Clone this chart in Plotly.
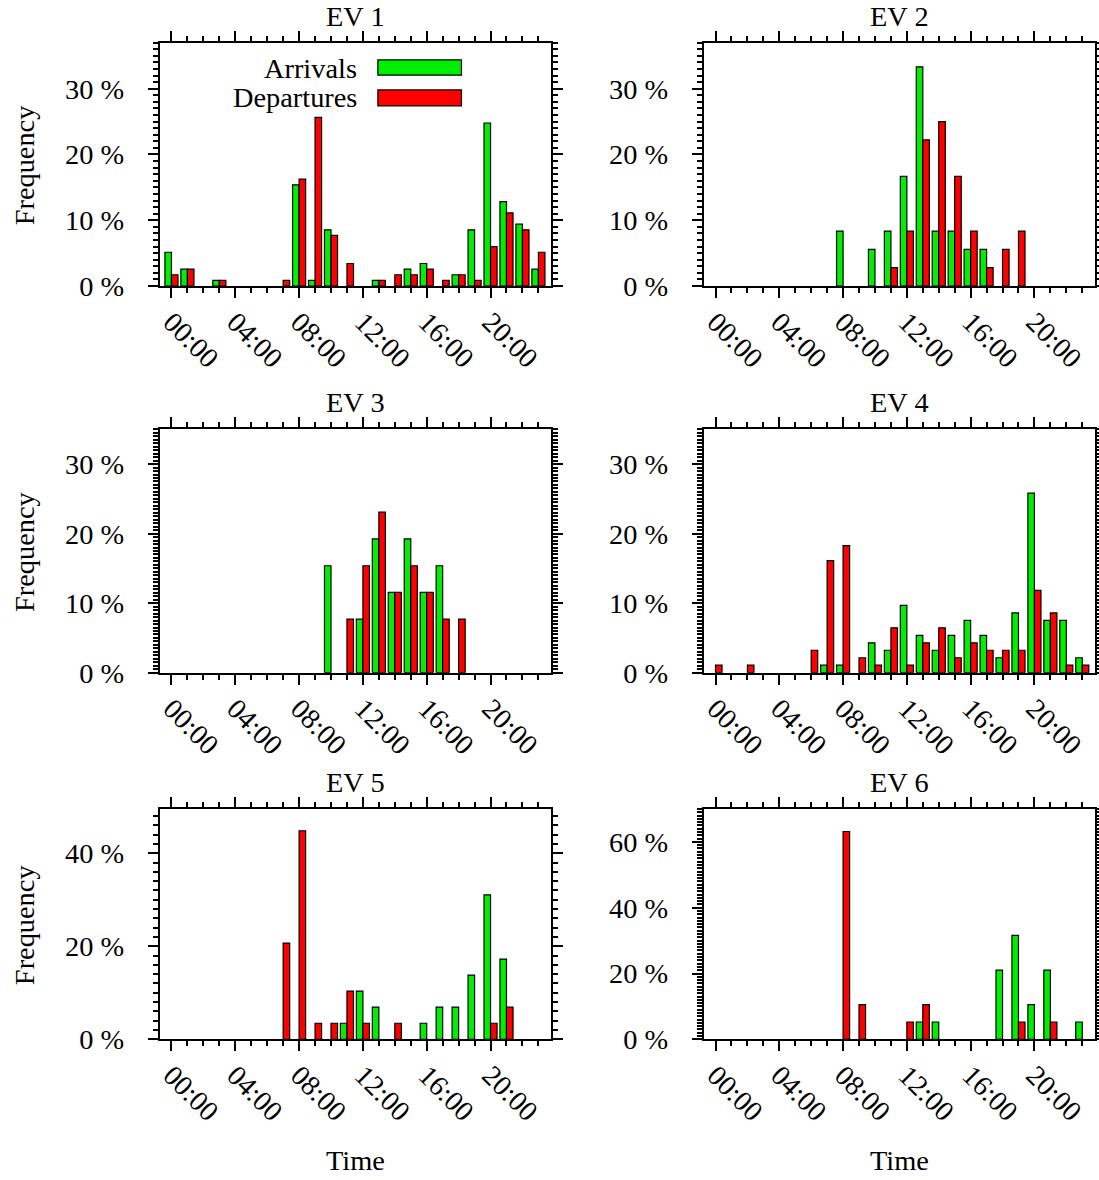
import plotly.graph_objects as go
from plotly.subplots import make_subplots

hours = list(range(24))
tick_hours = [0, 4, 8, 12, 16, 20]
tick_labels = ["00:00", "04:00", "08:00", "12:00", "16:00", "20:00"]
titles = ["EV 1", "EV 2", "EV 3", "EV 4", "EV 5", "EV 6"]

#            0     1     2     3     4  5  6  7     8      9      10    11    12 13    14    15    16    17    18    19    20     21     22    23
ev1_arr = [5.13, 2.56, 0, 0.85, 0, 0, 0, 0, 15.38, 0.85, 8.55, 0, 0, 0.85, 0, 2.56, 3.42, 0, 1.71, 8.55, 24.79, 12.82, 9.40, 2.56]
ev1_dep = [1.71, 2.56, 0, 0.85, 0, 0, 0, 0.85, 16.24, 25.64, 7.69, 3.42, 0, 0.85, 1.71, 1.71, 2.56, 0.85, 1.71, 0.85, 5.98, 11.11, 8.55, 5.13]

ev2_arr = [0, 0, 0, 0, 0, 0, 0, 0, 8.33, 0, 5.56, 8.33, 16.67, 33.33, 8.33, 8.33, 5.56, 5.56, 0, 0, 0, 0, 0, 0]
ev2_dep = [0, 0, 0, 0, 0, 0, 0, 0, 0, 0, 0, 2.78, 8.33, 22.22, 25.00, 16.67, 8.33, 2.78, 5.56, 8.33, 0, 0, 0, 0]

ev3_arr = [0, 0, 0, 0, 0, 0, 0, 0, 0, 0, 15.38, 0, 7.69, 19.23, 11.54, 19.23, 11.54, 15.38, 0, 0, 0, 0, 0, 0]
ev3_dep = [0, 0, 0, 0, 0, 0, 0, 0, 0, 0, 0, 7.69, 15.38, 23.08, 11.54, 15.38, 11.54, 7.69, 7.69, 0, 0, 0, 0, 0]

ev4_arr = [0, 0, 0, 0, 0, 0, 0, 1.08, 1.08, 0, 4.30, 3.23, 9.68, 5.38, 3.23, 5.38, 7.53, 5.38, 2.15, 8.60, 25.81, 7.53, 7.53, 2.15]
ev4_dep = [1.08, 0, 1.08, 0, 0, 0, 3.23, 16.13, 18.28, 2.15, 1.08, 6.45, 1.08, 4.30, 6.45, 2.15, 4.30, 3.23, 3.23, 3.23, 11.83, 8.60, 1.08, 1.08]

ev5_arr = [0, 0, 0, 0, 0, 0, 0, 0, 0, 0, 0, 3.45, 10.34, 6.90, 0, 0, 3.45, 6.90, 6.90, 13.79, 31.03, 17.24, 0, 0]
ev5_dep = [0, 0, 0, 0, 0, 0, 0, 20.69, 44.83, 3.45, 3.45, 10.34, 3.45, 0, 3.45, 0, 0, 0, 0, 0, 3.45, 6.90, 0, 0]

ev6_arr = [0, 0, 0, 0, 0, 0, 0, 0, 0, 0, 0, 0, 0, 5.26, 5.26, 0, 0, 0, 21.05, 31.58, 10.53, 21.05, 0, 5.26]
ev6_dep = [0, 0, 0, 0, 0, 0, 0, 0, 63.16, 10.53, 0, 0, 5.26, 10.53, 0, 0, 0, 0, 0, 5.26, 0, 5.26, 0, 0]

y_max = [37, 37, 35, 35, 49.5, 70]
y_major = [10, 10, 10, 10, 20, 20]
y_minor = [1, 1, 0.5, 0.5, 2, 1]

panels = [(ev1_arr, ev1_dep), (ev2_arr, ev2_dep), (ev3_arr, ev3_dep),
          (ev4_arr, ev4_dep), (ev5_arr, ev5_dep), (ev6_arr, ev6_dep)]

GREEN = "#00ee00"
RED = "#ff0000"
FONT = "Liberation Serif"

# layout grid measured on the 1099x1180 reference, laid out on a slightly larger page
REF_W, REF_H = 1099, 1180
H = 1196
SY = H / REF_H
SX = 1.007
W = round(REF_W * SX)
FS = 28 * SY

def px_x(x):
    return x * SX / W

def px_y(y):
    return 1 - y * SY / H

x_dom = [[px_x(157), px_x(548.5)], [px_x(701.7), px_x(1093)]]
y_dom = [[px_y(286), px_y(42.7)], [px_y(672.7), px_y(429.3)], [px_y(1039.3), px_y(809)]]

fig = make_subplots(rows=3, cols=2)

def nz(vals):
    return [v if v > 0 else None for v in vals]

for i, (arr, dep) in enumerate(panels):
    r, c = i // 2 + 1, i % 2 + 1
    fig.add_trace(go.Bar(x=hours, y=nz(arr), offset=-0.41, width=0.41, name="Arrivals",
                         marker=dict(color=GREEN, line=dict(color="black", width=1.2)),
                         showlegend=False), row=r, col=c)
    fig.add_trace(go.Bar(x=hours, y=nz(dep), offset=0, width=0.41, name="Departures",
                         marker=dict(color=RED, line=dict(color="black", width=1.2)),
                         showlegend=False), row=r, col=c)
    fig.update_xaxes(row=r, col=c, domain=x_dom[c - 1], range=[-0.73, 23.78],
                     tickmode="array", tickvals=tick_hours, ticktext=tick_labels,
                     tickangle=45, ticks="outside", ticklen=10, tickwidth=2, tickcolor="black",
                     showline=True, linewidth=2, linecolor="black", mirror="allticks",
                     showgrid=False, zeroline=False,
                     minor=dict(tickmode="linear", tick0=0, dtick=1, ticks="outside", ticklen=5,
                                tickwidth=2, tickcolor="black", showgrid=False),
                     tickfont=dict(family=FONT, size=FS, color="black"), ticklabelstandoff=-4)
    fig.update_yaxes(row=r, col=c, domain=y_dom[r - 1], range=[0, y_max[i]],
                     tickmode="linear", tick0=0, dtick=y_major[i], ticksuffix=" %",
                     ticks="outside", ticklen=10, tickwidth=2, tickcolor="black",
                     showline=True, linewidth=2, linecolor="black", mirror="allticks",
                     showgrid=False, zeroline=False,
                     minor=dict(tickmode="linear", tick0=0, dtick=y_minor[i], ticks="outside", ticklen=5,
                                tickwidth=2, tickcolor="black", showgrid=False),
                     tickfont=dict(family=FONT, size=FS, color="black"), ticklabelstandoff=18)

axis_names = ["", "2", "3", "4", "5", "6"]
annotations = []
for i, t in enumerate(titles):
    a = axis_names[i]
    annotations.append(dict(text=t, xref=f"x{a} domain", yref=f"y{a} domain", x=0.5, y=1,
                            yanchor="middle", xanchor="center", yshift=26 * SY, showarrow=False,
                            font=dict(family=FONT, size=FS, color="black")))
for a in ["", "3", "5"]:
    annotations.append(dict(text="Frequency", xref="paper", yref=f"y{a} domain", x=px_x(21), y=0.5,
                            textangle=-90, xanchor="center", yanchor="middle", showarrow=False,
                            font=dict(family=FONT, size=FS, color="black")))
for a in ["5", "6"]:
    annotations.append(dict(text="Time", xref=f"x{a} domain", yref="paper", x=0.5, y=px_y(1160),
                            xanchor="center", yanchor="middle", showarrow=False,
                            font=dict(family=FONT, size=FS, color="black")))

# legend (panel EV 1): text on the left, colour key on the right
legend_items = [("Arrivals", GREEN, 0.896, 0.867, 0.929), ("Departures", RED, 0.773, 0.740, 0.806)]
shapes = []
for name, col, yc, y0, y1 in legend_items:
    annotations.append(dict(text=name, xref="x domain", yref="y domain", x=0.510, y=yc,
                            xanchor="right", yanchor="middle", showarrow=False,
                            font=dict(family=FONT, size=FS, color="black")))
    shapes.append(dict(type="rect", xref="x domain", yref="y domain", x0=0.5576, x1=0.7714,
                       y0=y0, y1=y1, fillcolor=col, line=dict(color="black", width=1.2)))

fig.update_layout(width=W, height=H, margin=dict(l=0, r=0, t=0, b=0),
                  paper_bgcolor="white", plot_bgcolor="white", barmode="overlay",
                  annotations=annotations, shapes=shapes, showlegend=False,
                  font=dict(family=FONT, size=FS, color="black"))

fig.write_html("out.html")
